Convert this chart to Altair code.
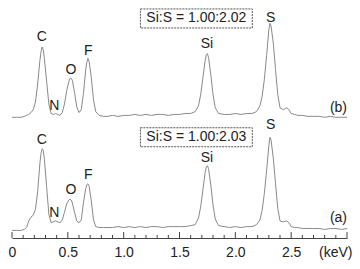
import altair as alt
import pandas as pd

# ---- data ----
energy = [0.00, 0.04, 0.08, 0.11, 0.13, 0.15, 0.17, 0.19, 0.21, 0.23,
          0.25, 0.26, 0.27, 0.28, 0.29, 0.31, 0.33, 0.35, 0.37, 0.39,
          0.41, 0.43, 0.45, 0.47, 0.49, 0.51, 0.52, 0.53, 0.54, 0.56,
          0.58, 0.60, 0.62, 0.64, 0.66, 0.67, 0.68, 0.69, 0.71, 0.73,
          0.75, 0.78, 0.82, 0.86, 0.90, 0.95, 1.00, 1.05, 1.10, 1.15,
          1.20, 1.25, 1.30, 1.35, 1.40, 1.45, 1.50, 1.55, 1.60, 1.64,
          1.67, 1.69, 1.71, 1.73, 1.74, 1.75, 1.76, 1.78, 1.80, 1.82,
          1.85, 1.90, 1.95, 2.00, 2.05, 2.10, 2.15, 2.19, 2.22, 2.24,
          2.26, 2.28, 2.30, 2.31, 2.32, 2.34, 2.36, 2.38, 2.40, 2.43,
          2.46, 2.48, 2.50, 2.53, 2.56, 2.60, 2.65, 2.70, 2.75, 2.80,
          2.85, 2.90, 2.95, 3.00]

counts_b = [0, 0, 0, 1, 2, 3, 5, 8, 16, 35,
            60, 69, 74, 71, 62, 38, 14, 4, 3, 4,
            3, 2, 5, 14, 28, 38, 41, 41, 39, 26,
            11, 5, 8, 25, 50, 58, 62, 59, 42, 18,
            6, 2, 1, 1, 2, 1, 2, 2, 3, 2,
            3, 2, 3, 3, 2, 3, 3, 4, 4, 6,
            12, 24, 42, 60, 66, 67, 63, 45, 24, 10,
            4, 3, 3, 4, 3, 4, 4, 6, 12, 22,
            40, 65, 92, 99, 96, 78, 50, 24, 10, 8,
            10, 8, 4, 3, 2, 2, 1, 1, 1, 0,
            1, 0, 0, 0]

counts_a = [-1, -1, -1, 0, 2, 9, 13, 15, 21, 40,
            70, 80, 85, 83, 74, 45, 16, 7, 8, 9,
            8, 7, 10, 18, 27, 31, 32, 31, 28, 18,
            9, 7, 10, 28, 43, 47, 48, 46, 30, 10,
            3, 2, 2, 2, 2, 3, 2, 3, 2, 3,
            2, 3, 3, 2, 3, 3, 3, 3, 4, 5,
            12, 24, 42, 60, 66, 67, 64, 47, 26, 11,
            4, 3, 2, 3, 2, 3, 3, 5, 10, 20,
            38, 62, 88, 97, 94, 75, 48, 22, 9, 8,
            9, 7, 3, 2, 2, 1, 1, 1, 1, 0,
            1, 1, 0, 1]

series_names = ["a", "b"]
series_offset = [0, 118]

peak_labels = ["C", "N", "O", "F", "Si", "S"]
peak_x = [0.268, 0.380, 0.527, 0.683, 1.746, 2.316]
peak_y_a = [94, 17, 41, 57, 75, 110]
peak_y_b = [203, 130, 168, 188, 195, 223]

ratio_text = ["Si:S = 1.00:2.03", "Si:S = 1.00:2.02"]
ratio_y = [97, 222]
box_x = [1.15, 2.152]
box_y_a = [87, 107]
box_y_b = [212, 232]

panel_labels = ["(a)", "(b)"]
panel_y = [12, 128]

major_ticks = [0.0, 0.5, 1.0, 1.5, 2.0, 2.5, 3.0]
minor_ticks = [0.1, 0.2, 0.3, 0.4, 0.6, 0.7, 0.8, 0.9, 1.1, 1.2, 1.3, 1.4,
               1.6, 1.7, 1.8, 1.9, 2.1, 2.2, 2.3, 2.4, 2.6, 2.7, 2.8, 2.9]

# ---- build tables ----
rows = []
for name, off, vals in [("a", series_offset[0], counts_a), ("b", series_offset[1], counts_b)]:
    for e, v in zip(energy, vals):
        rows.append({"keV": e, "I": v + off, "s": name})
spec = pd.DataFrame(rows)

lab_rows = []
for t, x, ya, yb in zip(peak_labels, peak_x, peak_y_a, peak_y_b):
    lab_rows.append({"x": x, "y": ya, "t": t})
    lab_rows.append({"x": x, "y": yb, "t": t})
for t, y in zip(ratio_text, ratio_y):
    lab_rows.append({"x": (box_x[0] + box_x[1]) / 2, "y": y, "t": t})
labels = pd.DataFrame(lab_rows)

boxes = pd.DataFrame({"x": [box_x[0]] * 2, "x2": [box_x[1]] * 2,
                      "y": [box_y_a[0], box_y_b[0]], "y2": [box_y_a[1], box_y_b[1]]})
panels = pd.DataFrame({"x": [3.0, 3.0], "y": panel_y, "t": panel_labels})
majors = pd.DataFrame({"x": major_ticks})
minors = pd.DataFrame({"x": minor_ticks})

FONT = "Liberation Sans"
W, H = 335, 230
xs = alt.Scale(domain=[0, 3], nice=False, zero=False)
ys = alt.Scale(domain=[-9, 233], nice=False, zero=False)

xaxis = alt.Axis(values=major_ticks, ticks=False, tickSize=0, grid=False,
                 labelExpr="datum.value == 0 ? '0' : (datum.value == 3 ? '' : format(datum.value, '.1f'))",
                 labelFlush=False, labelOverlap=False, labelFont=FONT, labelFontSize=14,
                 labelColor="#222", labelBaseline="middle", labelPadding=14,
                 domainColor="#444", domainWidth=1,
                 title="(keV)", titleFont=FONT, titleFontSize=14, titleFontWeight="normal",
                 titleColor="#222", titleAlign="right", titleAnchor="end",
                 titleBaseline="middle", titleX=340, titleY=14)

lines = alt.Chart(spec).mark_line(color="#8a8a8a", strokeWidth=1).encode(
    x=alt.X("keV:Q", scale=xs, axis=xaxis),
    y=alt.Y("I:Q", scale=ys, axis=None),
    detail="s:N",
)

rects = alt.Chart(boxes).mark_rect(fill="white", fillOpacity=0, stroke="#555",
                                   strokeWidth=1, strokeDash=[2, 1]).encode(
    x=alt.X("x:Q", scale=xs), x2="x2:Q",
    y=alt.Y("y:Q", scale=ys), y2="y2:Q",
)

texts = alt.Chart(labels).mark_text(font=FONT, fontSize=14, color="#222",
                                    baseline="middle", align="center").encode(
    x=alt.X("x:Q", scale=xs), y=alt.Y("y:Q", scale=ys), text="t:N",
)

ptexts = alt.Chart(panels).mark_text(font=FONT, fontSize=14, color="#222",
                                     baseline="middle", align="right").encode(
    x=alt.X("x:Q", scale=xs), y=alt.Y("y:Q", scale=ys), text="t:N",
)

mt = alt.Chart(majors).mark_rule(color="#444", strokeWidth=1).encode(
    x=alt.X("x:Q", scale=xs), y=alt.value(H), y2=alt.value(H - 6))
nt = alt.Chart(minors).mark_rule(color="#444", strokeWidth=1).encode(
    x=alt.X("x:Q", scale=xs), y=alt.value(H), y2=alt.value(H - 3))

chart = alt.layer(lines, rects, texts, ptexts, mt, nt).properties(
    width=W, height=H,
    padding={"left": 4, "top": 0, "right": 5, "bottom": 22},
    autosize=alt.AutoSizeParams(type="none"),
).configure_view(stroke=None)

chart.save("out.html", embed_options={"renderer": "svg", "actions": False})
